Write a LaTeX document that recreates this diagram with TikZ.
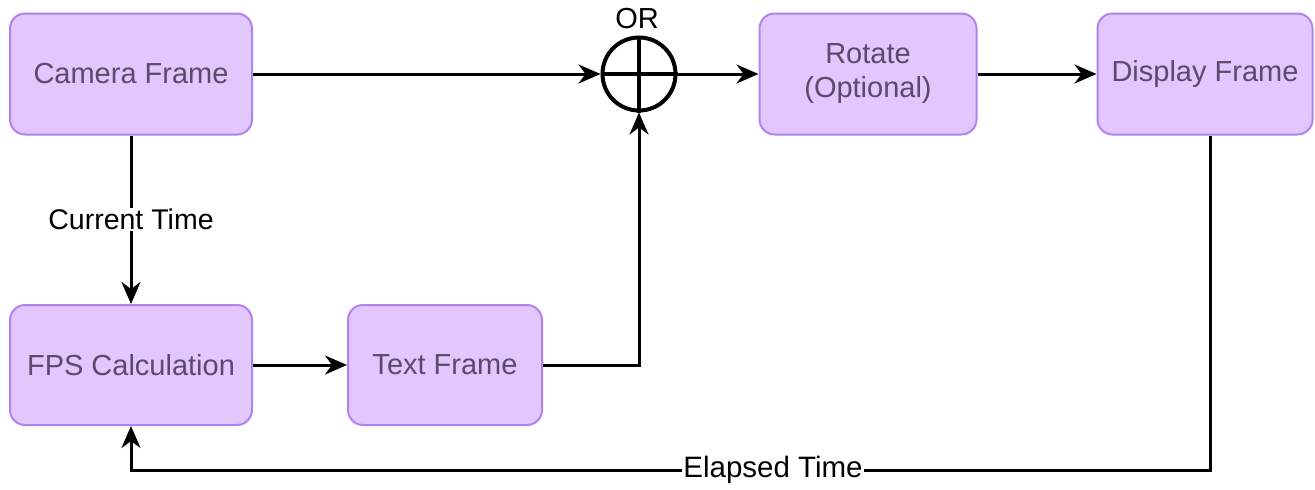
\documentclass[tikz,border=0pt]{standalone}
\usepackage{fontspec}
\setmainfont{Liberation Sans}
\usetikzlibrary{arrows.meta}
\definecolor{boxfill}{HTML}{E2C6FE}
\definecolor{boxdraw}{HTML}{B283EE}
\definecolor{boxtext}{HTML}{5B4A6B}
\tikzset{
  blk/.style={draw=boxdraw, fill=boxfill, line width=2pt, rounded corners=15pt,
    text=boxtext, font=\fontsize{29}{34}\selectfont, align=center, inner sep=0pt},
  conn/.style={line width=3pt, -{Stealth[length=22pt,width=19pt,inset=7pt]}},
  lbl/.style={font=\fontsize{28.5}{31}\selectfont, text=black, fill=white, inner sep=1pt}
}
\begin{document}
\begin{tikzpicture}[x=1pt,y=-1pt]
\useasboundingbox (0,0) rectangle (1315,490);
\node[blk, minimum width=242pt, minimum height=121pt] (cam) at (131,74) {Camera Frame};
\node[blk, minimum width=217pt, minimum height=121pt] (rot) at (868,74) {Rotate\\(Optional)};
\node[blk, minimum width=215pt, minimum height=121pt] (disp) at (1205,74) {Display Frame};
\node[blk, minimum width=242pt, minimum height=120pt] (fps) at (131,365) {FPS Calculation};
\node[blk, minimum width=194pt, minimum height=120pt] (txt) at (445,365) {Text Frame};
\node[draw, circle, line width=4pt, minimum size=73pt, inner sep=0pt] (or) at (639,74) {};
\draw[line width=4pt] (or.north) -- (or.south) (or.west) -- (or.east);
\node[font=\fontsize{29}{31}\selectfont] (orl) at (637,19) {OR};
\coordinate (fb1) at (1210,470);
\coordinate (fb2) at (131,470);
\draw[conn] (cam.east) -- (or.west);
\draw[conn] (or.east) -- (rot.west);
\draw[conn] (rot.east) -- (disp.west);
\draw[conn] (cam.south) -- node[lbl] {Current Time} (fps.north);
\draw[conn] (fps.east) -- (txt.west);
\draw[conn] (txt.east) -| (or.south);
\draw[conn] (disp.south -| fb1) -- (fb1) -- node[lbl, pos=0.405, font=\fontsize{29.5}{31}\selectfont] {Elapsed Time} (fb2) -- (fps.south);
\end{tikzpicture}
\end{document}
